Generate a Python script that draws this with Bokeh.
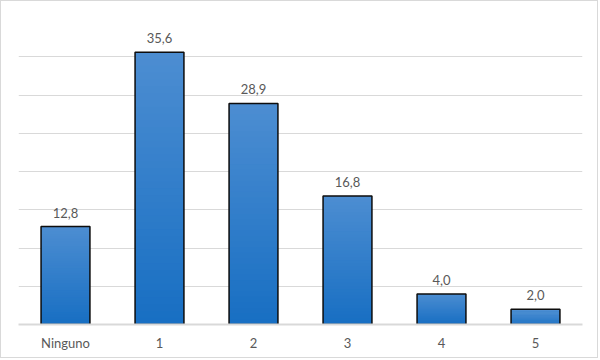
from bokeh.plotting import figure
from bokeh.models import Range1d, SingleIntervalTicker, ColumnDataSource
from bokeh.embed import file_html
from bokeh.resources import INLINE
from bokeh.core.properties import value

categories = ["Ninguno", "1", "2", "3", "4", "5"]
values = [12.8, 35.6, 28.9, 16.8, 4.0, 2.0]
value_labels = ["12,8", "35,6", "28,9", "16,8", "4,0", "2,0"]

FONT = "Lato"
TEXT_COLOR = "#595959"
BAR_W = 0.52

p = figure(x_range=categories, y_range=Range1d(0, 40), width=598, height=358,
           output_backend="svg", toolbar_location=None,
           min_border_left=17, min_border_right=17, min_border_top=17, min_border_bottom=35)
p.styles = {"border": "1px solid #d9d9d9"}
p.outline_line_color = None
p.background_fill_color = "white"
p.border_fill_color = "white"

# gradient simulated by stacked, overlapping slices of each bar
top_rgb = (0x4d, 0x8e, 0xd2)
bot_rgb = (0x18, 0x6f, 0xc3)
N = 40
gx, gb, gt, gc = [], [], [], []
for cat, v in zip(categories, values):
    for i in range(N):
        f0 = i / N
        f1 = min(1.0, (i + 2) / N)
        fm = (i + 0.5) / N
        r = int(bot_rgb[0] + (top_rgb[0] - bot_rgb[0]) * fm)
        g = int(bot_rgb[1] + (top_rgb[1] - bot_rgb[1]) * fm)
        b = int(bot_rgb[2] + (top_rgb[2] - bot_rgb[2]) * fm)
        gx.append(cat)
        gb.append(v * f0)
        gt.append(v * f1)
        gc.append("#%02x%02x%02x" % (r, g, b))
p.vbar(x=gx, bottom=gb, top=gt, width=BAR_W, fill_color=gc, line_color=None)

src = ColumnDataSource(dict(x=categories, top=values, lab=value_labels))
p.vbar(x="x", top="top", width=BAR_W, source=src, fill_color=None,
       line_color="#0d0d0d", line_width=1.5)
p.text(x="x", y="top", text="lab", source=src, text_align="center",
       text_baseline="alphabetic", y_offset=-14, text_font=value(FONT),
       text_font_size="13px", text_color=TEXT_COLOR)

p.yaxis.visible = False
p.ygrid.ticker = SingleIntervalTicker(interval=5)
p.ygrid.grid_line_color = "#d9d9d9"
p.ygrid.grid_line_width = 1
p.xgrid.grid_line_color = None

ax = p.xaxis[0]
ax.axis_line_color = "#d9d9d9"
ax.axis_line_width = 2
ax.major_tick_line_color = None
ax.minor_tick_line_color = None
ax.major_label_standoff = 4
ax.major_label_text_font = FONT
ax.major_label_text_font_size = "13px"
ax.major_label_text_color = TEXT_COLOR
p.x_range.range_padding = 0.0

open("out.html", "w").write(file_html(p, INLINE))
